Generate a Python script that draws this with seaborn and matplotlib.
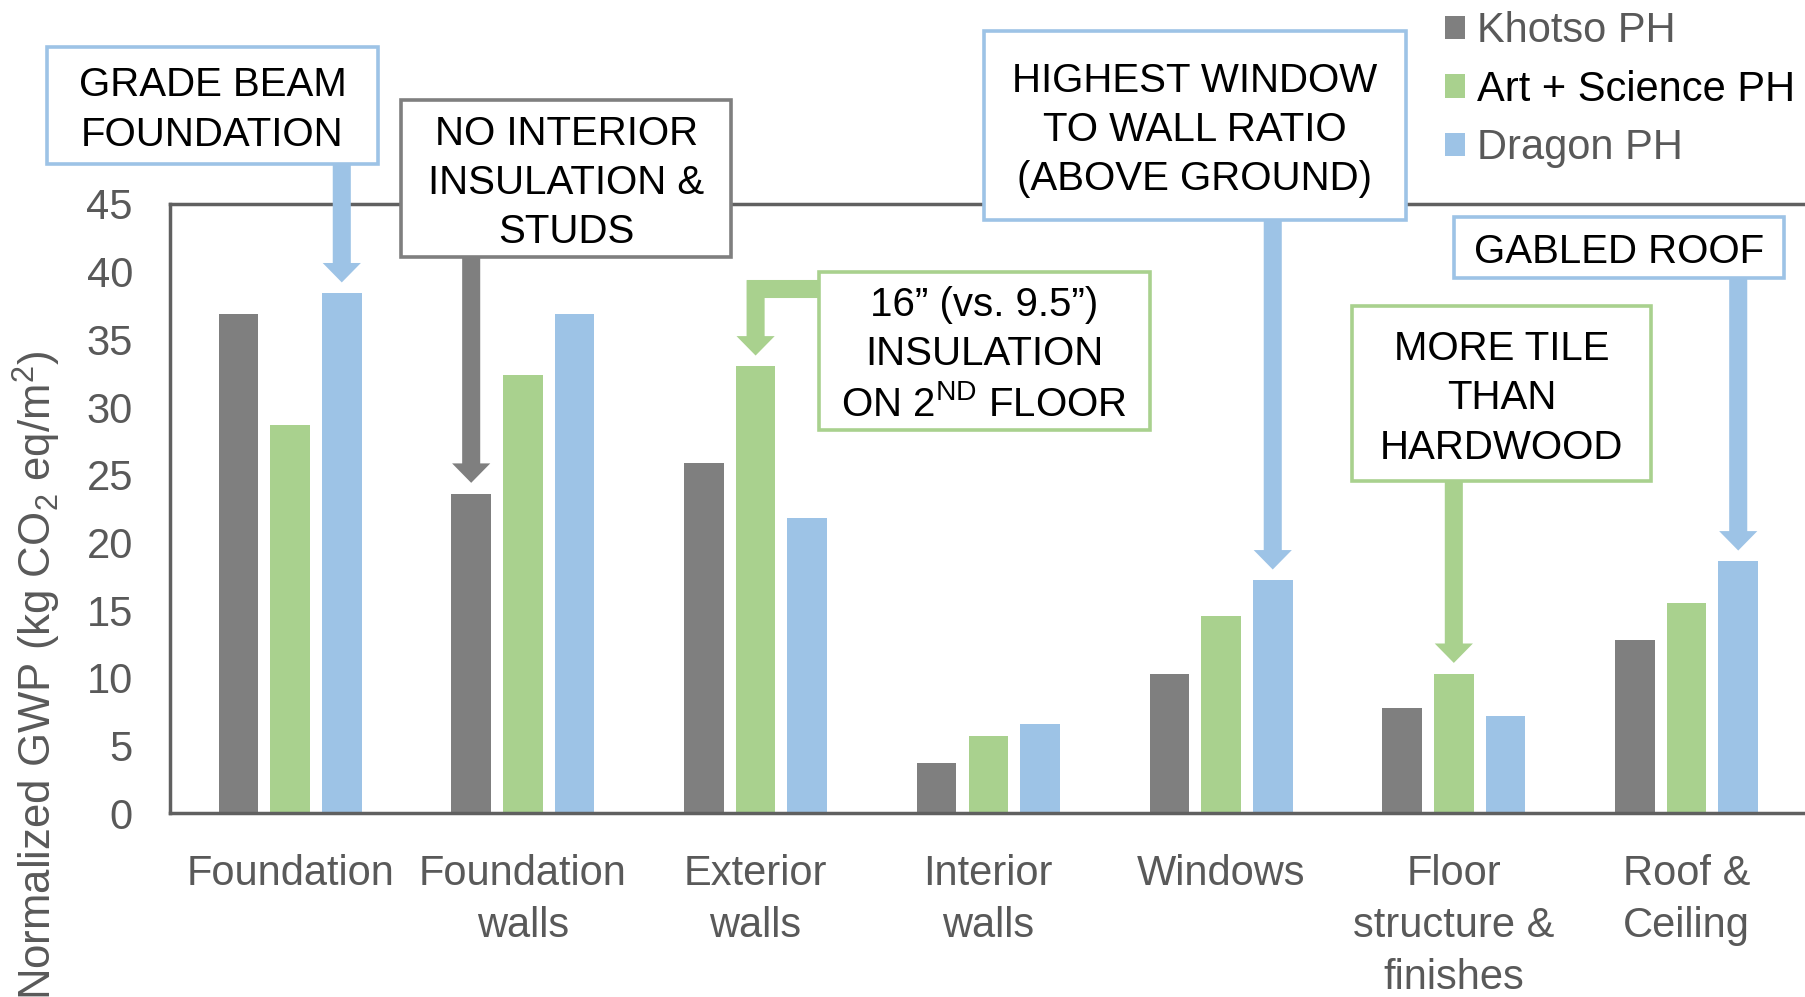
import matplotlib
matplotlib.use("Agg")
import matplotlib.pyplot as plt
import pandas as pd
import seaborn as sns
from matplotlib.patches import Rectangle
from matplotlib.transforms import blended_transform_factory

# ---------- data ----------
components = ["Foundation", "Foundation\nwalls", "Exterior\nwalls", "Interior\nwalls",
              "Windows", "Floor\nstructure &\nfinishes", "Roof &\nCeiling"]
houses = ["Khotso PH", "Art + Science PH", "Dragon PH"]
khotso = [36.9, 23.6, 25.9, 3.7, 10.3, 7.8, 12.8]
art_science = [28.7, 32.4, 33.0, 5.7, 14.6, 10.3, 15.5]
dragon = [38.4, 36.9, 21.8, 6.6, 17.2, 7.2, 18.6]
yticks = [0, 5, 10, 15, 20, 25, 30, 35, 40, 45]

colors = ["#7f7f7f", "#a9d18e", "#9dc3e6"]
legend_text_colors = ["#595959", "#000000", "#595959"]

df = pd.DataFrame({
    "component": components * 3,
    "house": [h for h in houses for _ in components],
    "gwp": khotso + art_science + dragon,
})

# callouts: text, box (x0, y0, x1, y1) in figure fraction, colour, target (house, component)
callouts = [
    ("GRADE BEAM\nFOUNDATION", (0.0261, 0.8359, 0.2092, 0.9527), colors[2], (2, 0)),
    ("NO INTERIOR\nINSULATION &\nSTUDS", (0.2219, 0.7423, 0.4050, 0.8995), colors[0], (0, 1)),
    ("16\u201d (vs. 9.5\u201d)\nINSULATION\nON 2$^{\\mathrm{ND}}$ FLOOR", (0.4534, 0.5691, 0.6365, 0.7274), colors[1], (1, 2)),
    ("HIGHEST WINDOW\nTO WALL RATIO\n(ABOVE GROUND)", (0.5446, 0.7793, 0.7787, 0.9688), colors[2], (2, 4)),
    ("MORE TILE\nTHAN\nHARDWOOD", (0.7487, 0.5172, 0.9139, 0.6927), colors[1], (1, 5)),
    ("GABLED ROOF", (0.8049, 0.7216, 0.9879, 0.7828), colors[2], (2, 6)),
]

# ---------- style ----------
sns.set_style("white")
plt.rcParams["font.family"] = ["Liberation Sans", "DejaVu Sans"]
plt.rcParams["mathtext.fontset"] = "custom"
plt.rcParams["mathtext.rm"] = "Liberation Sans"
plt.rcParams["mathtext.it"] = "Liberation Sans:italic"

fig = plt.figure(figsize=(18.06, 9.97), dpi=100)
ax = fig.add_axes([0.0944, 0.1843, 0.9039, 0.6112])

sns.barplot(data=df, x="component", y="gwp", hue="house", palette=colors,
            width=0.666, gap=0.233, saturation=1, linewidth=0, ax=ax)

ax.set_xlim(-0.514, 6.5)
ax.set_ylim(0, 45)
ax.set_yticks(yticks)
ax.set_xlabel("")
ax.set_ylabel("")
ax.tick_params(axis="y", length=0, pad=27, labelsize=30, labelcolor="#595959")
ax.tick_params(axis="x", length=0, pad=29, labelsize=30, labelcolor="#595959")
for lab in ax.get_xticklabels():
    lab.set_linespacing(1.4)

for side in ["left", "top", "bottom"]:
    ax.spines[side].set_visible(True)
    ax.spines[side].set_color("#606060")
    ax.spines[side].set_linewidth(2.5)
ax.spines["right"].set_visible(False)

fig.text(0.0205, 0.323, "Normalized GWP (kg CO$_2$ eq/m$^2$)", rotation=90,
         ha="center", va="center", fontsize=31.5, color="#595959")

# legend above the plot, top right
handles, labels = ax.get_legend_handles_labels()
ax.get_legend().remove()
leg = fig.legend(handles, labels, loc="upper left", bbox_to_anchor=(0.800, 0.989),
                 frameon=False, fontsize=30, handlelength=0.48, handleheight=0.48,
                 handletextpad=0.3, labelspacing=0.45, borderpad=0, borderaxespad=0)
for t, c in zip(leg.get_texts(), legend_text_colors):
    t.set_color(c)

# ---------- callouts ----------
offsets = [-0.222, 0.0, 0.222]
mixed = blended_transform_factory(ax.transData, fig.transFigure)
arrow_style = "simple,tail_width=1.3,head_width=2.75,head_length=1.4"

for text, (x0, y0, x1, y1), col, (hi, ci) in callouts:
    fig.patches.append(Rectangle((x0, y0), x1 - x0, y1 - y0, transform=fig.transFigure,
                                 facecolor="white", edgecolor=col, linewidth=2.6, zorder=2))
    fig.text((x0 + x1) / 2, (y0 + y1) / 2 - 0.0045, text, ha="center", va="center",
             fontsize=29, linespacing=1.38, color="black", zorder=3)

    bx = ci + offsets[hi]
    tip_y = df["gwp"].iloc[hi * len(components) + ci] + 0.8
    if "INSULATION\nON" in text:
        # elbow arrow from the left side of the box
        ax.plot([bx, 2.28], [0.710, 0.710], transform=mixed, color=col, linewidth=13,
                solid_capstyle="projecting", clip_on=False, zorder=4)
        start_y = 0.719
    else:
        start_y = y0 + 0.002
    ax.annotate("", xy=(bx, tip_y), xycoords="data", xytext=(bx, start_y), textcoords=mixed,
                arrowprops=dict(arrowstyle=arrow_style, mutation_scale=10, color=col,
                                shrinkA=0, shrinkB=0, linewidth=0),
                annotation_clip=False, zorder=4)

fig.savefig("out.png", dpi=100)
